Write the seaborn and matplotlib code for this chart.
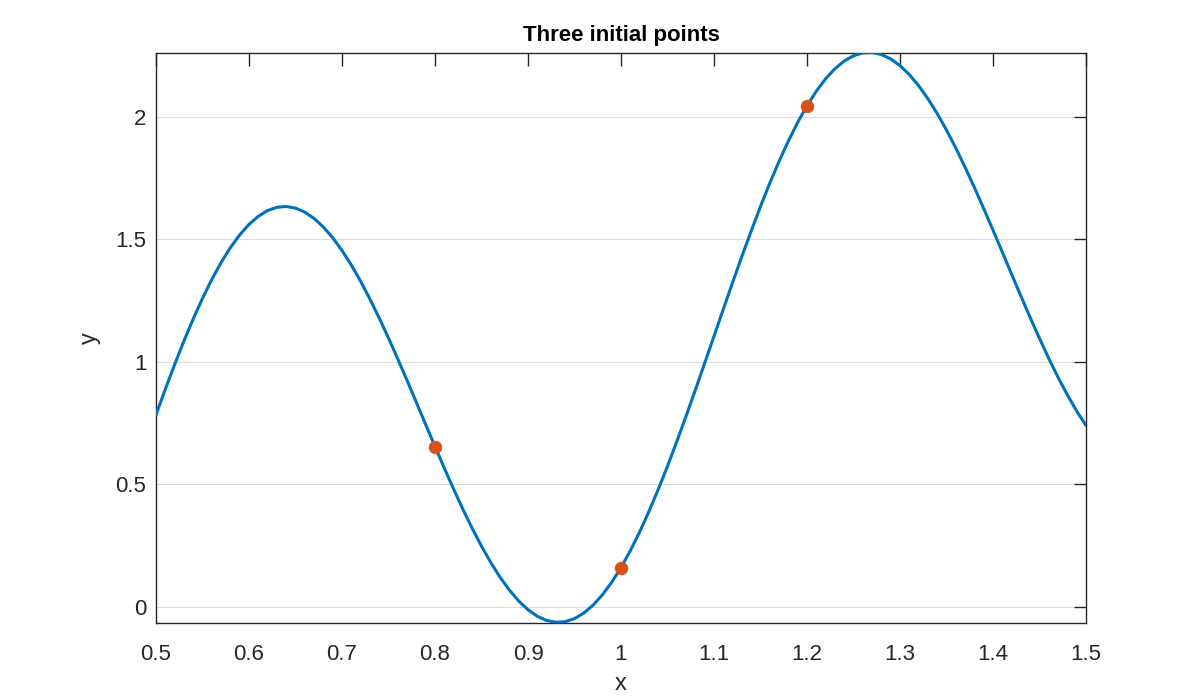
import numpy as np
import pandas as pd
import matplotlib
matplotlib.use("Agg")
import matplotlib.pyplot as plt
import seaborn as sns

# curve values (step 0.01)
x_vals = [0.50, 0.51, 0.52, 0.53, 0.54, 0.55, 0.56, 0.57, 0.58, 0.59,
          0.60, 0.61, 0.62, 0.63, 0.64, 0.65, 0.66, 0.67, 0.68, 0.69,
          0.70, 0.71, 0.72, 0.73, 0.74, 0.75, 0.76, 0.77, 0.78, 0.79,
          0.80, 0.81, 0.82, 0.83, 0.84, 0.85, 0.86, 0.87, 0.88, 0.89,
          0.90, 0.91, 0.92, 0.93, 0.94, 0.95, 0.96, 0.97, 0.98, 0.99,
          1.00, 1.01, 1.02, 1.03, 1.04, 1.05, 1.06, 1.07, 1.08, 1.09,
          1.10, 1.11, 1.12, 1.13, 1.14, 1.15, 1.16, 1.17, 1.18, 1.19,
          1.20, 1.21, 1.22, 1.23, 1.24, 1.25, 1.26, 1.27, 1.28, 1.29,
          1.30, 1.31, 1.32, 1.33, 1.34, 1.35, 1.36, 1.37, 1.38, 1.39,
          1.40, 1.41, 1.42, 1.43, 1.44, 1.45, 1.46, 1.47, 1.48, 1.49, 1.50]
y_vals = [0.7837, 0.8880, 0.9885, 1.0844, 1.1747, 1.2587, 1.3356, 1.4047, 1.4655, 1.5175,
          1.5602, 1.5933, 1.6165, 1.6299, 1.6332, 1.6266, 1.6102, 1.5844, 1.5494, 1.5057,
          1.4539, 1.3946, 1.3284, 1.2561, 1.1785, 1.0967, 1.0113, 0.9234, 0.8340, 0.7440,
          0.6545, 0.5665, 0.4809, 0.3986, 0.3207, 0.2480, 0.1813, 0.1213, 0.0689, 0.0246,
          -0.0111, -0.0377, -0.0548, -0.0622, -0.0597, -0.0472, -0.0247, 0.0076, 0.0496, 0.1008,
          0.1609, 0.2294, 0.3057, 0.3892, 0.4790, 0.5744, 0.6747, 0.7787, 0.8857, 0.9946,
          1.1044, 1.2142, 1.3230, 1.4298, 1.5335, 1.6333, 1.7283, 1.8176, 1.9004, 1.9761,
          2.0439, 2.1032, 2.1536, 2.1947, 2.2262, 2.2478, 2.2594, 2.2611, 2.2528, 2.2349,
          2.2075, 2.1710, 2.1259, 2.0728, 2.0122, 1.9449, 1.8717, 1.7934, 1.7108, 1.6250,
          1.5367, 1.4472, 1.3572, 1.2679, 1.1802, 1.0951, 1.0135, 0.9364, 0.8646, 0.7990, 0.7403]

# the three initial points
pts_x = [0.8, 1.0, 1.2]
pts_y = [0.6545, 0.1609, 2.0439]

x_ticks = [0.5, 0.6, 0.7, 0.8, 0.9, 1.0, 1.1, 1.2, 1.3, 1.4, 1.5]
x_ticklabels = ["0.5", "0.6", "0.7", "0.8", "0.9", "1", "1.1", "1.2", "1.3", "1.4", "1.5"]
y_ticks = [0, 0.5, 1, 1.5, 2]
y_ticklabels = ["0", "0.5", "1", "1.5", "2"]

sns.set_style("white")
plt.rcParams['font.family'] = ['Liberation Sans', 'DejaVu Sans']

curve = pd.DataFrame({"x": x_vals, "y": y_vals})
pts = pd.DataFrame({"x": pts_x, "y": pts_y})

fig = plt.figure(figsize=(12, 7), dpi=100)
ax = fig.add_axes([0.13, 0.11, 0.775, 0.815])

sns.lineplot(data=curve, x="x", y="y", color="#0072BD", linewidth=2.2, ax=ax, zorder=3)
sns.scatterplot(data=pts, x="x", y="y", color="#D95319", s=80, edgecolor="#D95319", ax=ax, zorder=4)

ax.set_xlim(0.5, 1.5)
ax.set_ylim(min(y_vals) - 0.003, max(y_vals))
ax.set_xticks(x_ticks)
ax.set_xticklabels(x_ticklabels)
ax.set_yticks(y_ticks)
ax.set_yticklabels(y_ticklabels)

ax.yaxis.grid(True, color="#dcdcdc", linewidth=0.8)
ax.xaxis.grid(False)
ax.set_axisbelow(True)

for s in ax.spines.values():
    s.set_visible(True)
    s.set_color("#262626")
    s.set_linewidth(1.0)
ax.tick_params(direction="in", length=9, width=1, colors="#262626",
               top=True, right=True, labelsize=16)
ax.tick_params(axis="x", pad=15)
ax.tick_params(axis="y", pad=7)

ax.set_title("Three initial points", fontsize=16, fontweight="bold", color="black", pad=8)
ax.set_xlabel("x", fontsize=17, color="#262626", labelpad=6)
ax.set_ylabel("y", fontsize=17, color="#262626", labelpad=10)

fig.savefig("out.png", dpi=100)
